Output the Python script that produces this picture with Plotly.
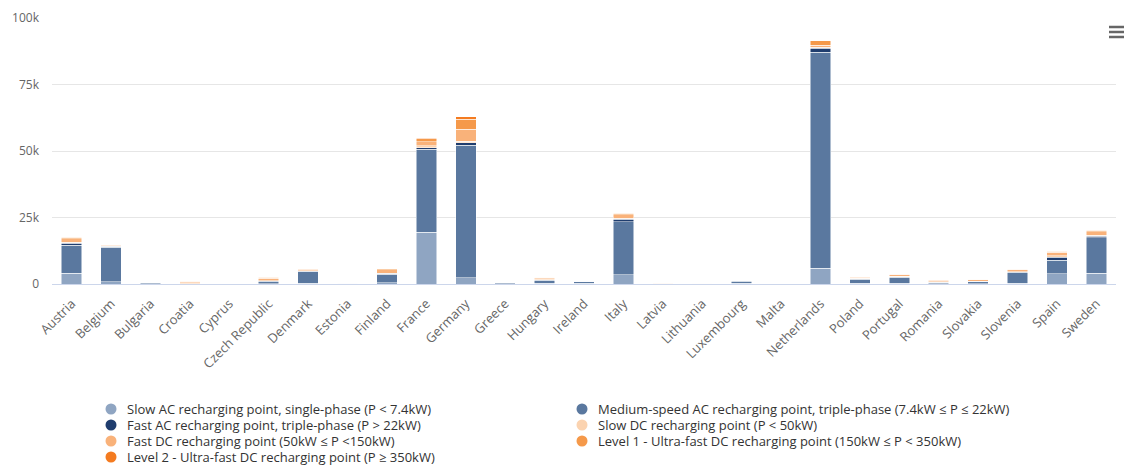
import plotly.graph_objects as go

countries = ["Austria", "Belgium", "Bulgaria", "Croatia", "Cyprus", "Czech Republic", "Denmark",
             "Estonia", "Finland", "France", "Germany", "Greece", "Hungary", "Ireland", "Italy",
             "Latvia", "Lithuania", "Luxembourg", "Malta", "Netherlands", "Poland", "Portugal",
             "Romania", "Slovakia", "Slovenia", "Spain", "Sweden"]

# Recharging points per country, by charger category
slow_ac = [4100, 800, 100, 0, 0, 100, 300, 0, 500, 19500, 2300, 100, 200, 200, 3400,
           0, 0, 200, 0, 6000, 200, 300, 100, 100, 300, 3800, 4100]
medium_ac = [10500, 13100, 400, 100, 100, 1000, 4300, 300, 3200, 31200, 49900, 300, 1300, 800, 20000,
             100, 100, 900, 100, 81100, 1600, 2200, 500, 800, 4200, 5200, 13200]
fast_ac = [800, 200, 100, 0, 0, 100, 200, 0, 300, 500, 900, 0, 100, 100, 1000,
           0, 0, 100, 0, 1600, 200, 300, 0, 100, 100, 1100, 600]
slow_dc = [300, 100, 0, 300, 0, 100, 100, 0, 100, 800, 600, 0, 400, 0, 400,
           200, 0, 0, 0, 300, 100, 100, 300, 100, 100, 500, 500]
fast_dc = [1300, 400, 100, 500, 0, 900, 700, 100, 1200, 1500, 4500, 100, 500, 200, 1200,
           200, 100, 100, 0, 800, 500, 600, 600, 600, 700, 1300, 1200]
level1_dc = [600, 100, 0, 100, 0, 300, 200, 0, 400, 1100, 3800, 0, 100, 0, 600,
             0, 0, 0, 0, 1600, 200, 200, 100, 100, 200, 500, 700]
level2_dc = [0, 0, 0, 0, 0, 0, 0, 0, 0, 200, 800, 0, 0, 0, 0,
             0, 0, 0, 0, 100, 0, 0, 0, 0, 0, 0, 0]

series = [
    ("Slow AC recharging point, single-phase (P < 7.4kW)", slow_ac, "#8fa5c2"),
    ("Medium-speed AC recharging point, triple-phase (7.4kW ≤ P ≤ 22kW)", medium_ac, "#5a789f"),
    ("Fast AC recharging point, triple-phase (P > 22kW)", fast_ac, "#1f3d6e"),
    ("Slow DC recharging point (P < 50kW)", slow_dc, "#fbd3b0"),
    ("Fast DC recharging point (50kW ≤ P <150kW)", fast_dc, "#f9b27a"),
    ("Level 1 - Ultra-fast DC recharging point (150kW ≤ P < 350kW)", level1_dc, "#f5994a"),
    ("Level 2 - Ultra-fast DC recharging point (P ≥ 350kW)", level2_dc, "#f47b20"),
]

y_ticks = [0, 25000, 50000, 75000, 100000]
y_tick_text = ["0", "25k", "50k", "75k", "100k"]

FONT = "Open Sans, DejaVu Sans, sans-serif"
W, H = 1127, 475
ML, MR, MT, MB = 52, 11, 18, 191
PW, PH = W - ML - MR, H - MT - MB


def px_to_paper(px, py):
    return (px - ML) / PW, (H - MB - py) / PH


fig = go.Figure()
for name, values, color in series:
    fig.add_trace(go.Bar(
        x=countries, y=values, name=name, showlegend=False,
        marker=dict(color=color, line=dict(color="white", width=0.5)),
    ))

# Two-column legend below the chart: round swatch + label per series
col_text_x = [125, 596]
row_y0, row_step = 409, 16
dot_r = 5.5
for i, (name, _, color) in enumerate(series):
    col, row = i % 2, i // 2
    tx = col_text_x[col]
    cy = row_y0 + row * row_step
    cx = tx - 14
    x0, y0 = px_to_paper(cx - dot_r, cy + dot_r)
    x1, y1 = px_to_paper(cx + dot_r, cy - dot_r)
    fig.add_shape(type="circle", xref="paper", yref="paper",
                  x0=x0, x1=x1, y0=y0, y1=y1,
                  fillcolor=color, line=dict(width=0))
    ax, ay = px_to_paper(tx, cy)
    fig.add_annotation(x=ax, y=ay, xref="paper", yref="paper",
                       text=name, showarrow=False, xanchor="left", yanchor="middle",
                       font=dict(size=13, color="#333333", family=FONT))

# Context-menu icon (three bars)
for py in (27, 32, 37):
    xa, ya = px_to_paper(1109, py)
    xb, _ = px_to_paper(1124, py)
    fig.add_shape(type="line", xref="paper", yref="paper",
                  x0=xa, x1=xb, y0=ya, y1=ya,
                  line=dict(color="#666666", width=2.5))

fig.update_layout(
    width=W, height=H,
    margin=dict(l=ML, r=MR, t=MT, b=MB, autoexpand=False),
    barmode="stack", bargap=0.48,
    plot_bgcolor="white", paper_bgcolor="white",
    font=dict(family=FONT, color="#333333", size=12),
    showlegend=False,
    xaxis=dict(
        tickangle=-45, tickfont=dict(size=13, color="#666666"),
        showgrid=False, showline=True, linecolor="#ccd6eb", linewidth=1,
        ticks="", fixedrange=True, automargin=False, ticklabelstandoff=6,
    ),
    yaxis=dict(
        range=[0, 100000], tickvals=y_ticks, ticktext=y_tick_text,
        tickfont=dict(size=12, color="#666666"),
        showgrid=True, gridcolor="#e6e6e6", gridwidth=1,
        zeroline=False, showline=False, ticks="", ticklabelstandoff=12,
        automargin=False,
    ),
)

fig.write_html("out.html")
